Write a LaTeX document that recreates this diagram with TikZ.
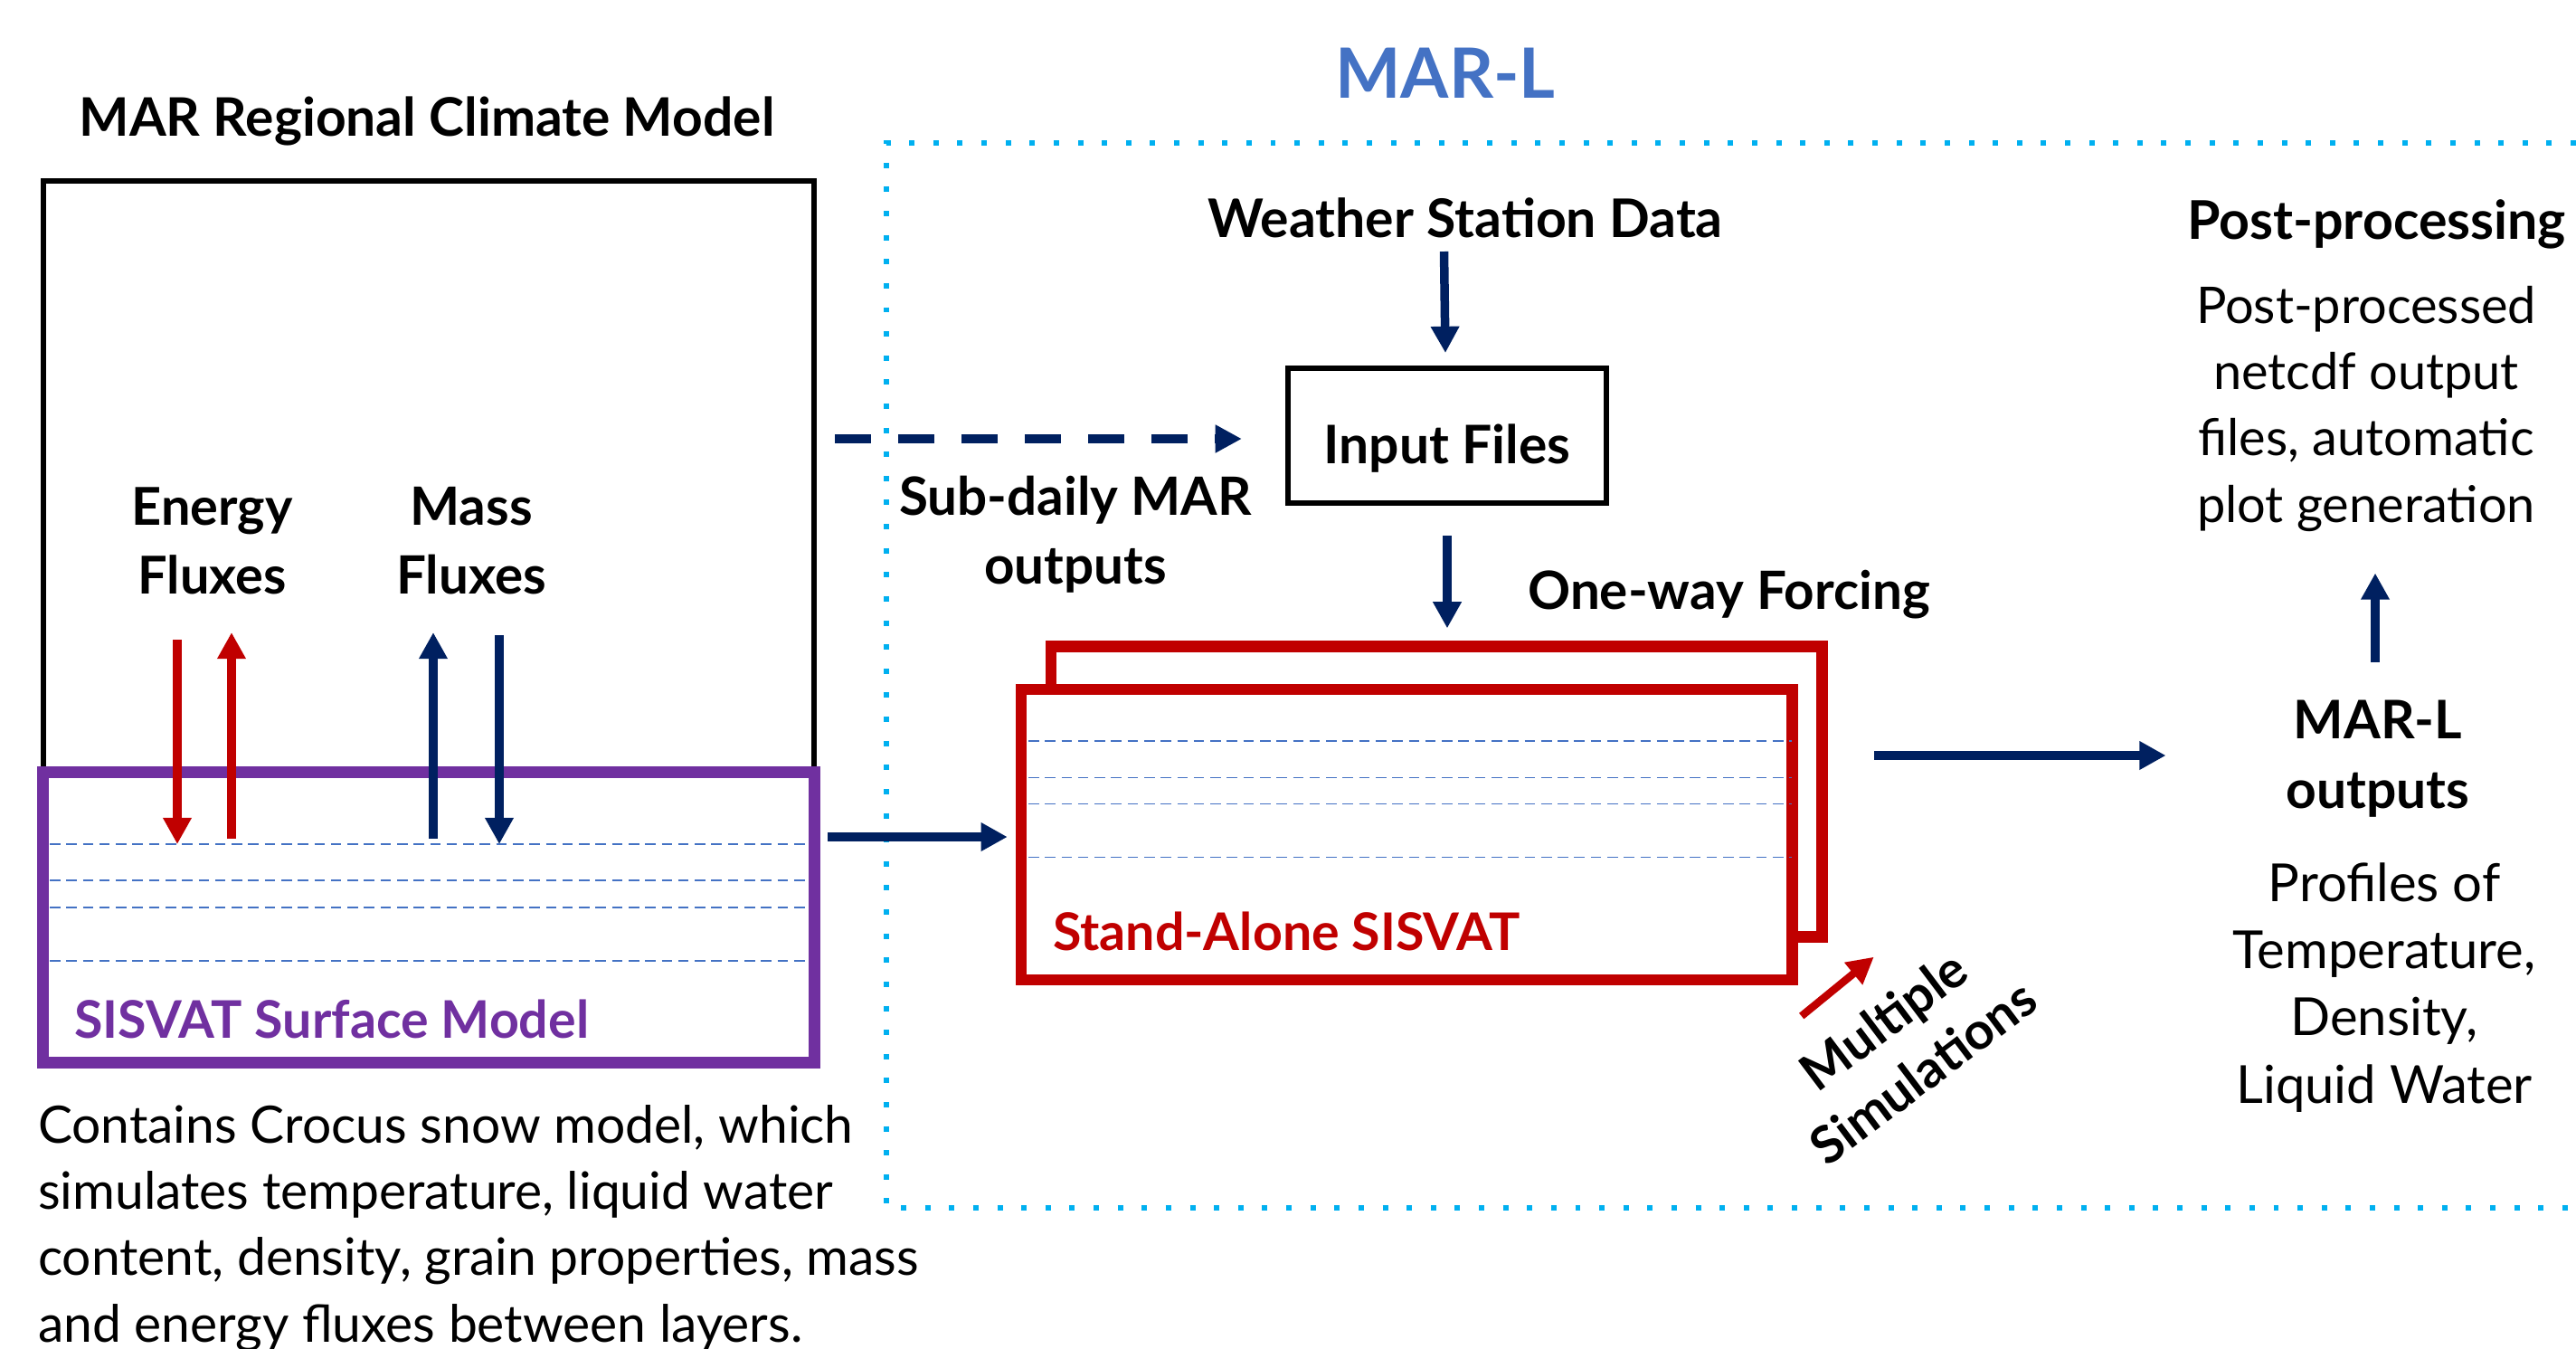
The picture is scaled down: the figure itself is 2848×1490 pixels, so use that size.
\documentclass[tikz,border=0pt]{standalone}
\usepackage{fontspec}
\setmainfont{Lato}
\usetikzlibrary{arrows.meta,calc}
\definecolor{navy}{HTML}{002060}
\definecolor{darkred}{HTML}{C00000}
\definecolor{purp}{HTML}{7030A0}
\definecolor{layerblue}{HTML}{4472C4}
\definecolor{cyanb}{HTML}{00B0F0}
\definecolor{titleblue}{HTML}{4472C4}
\begin{document}
\begin{tikzpicture}[x=0.01cm,y=-0.01cm,
  every node/.style={inner sep=0pt,outer sep=0pt},
  navyarr/.style={draw=navy,line width=2.7pt,-{Triangle[length=8.3pt,width=8.5pt,fill=navy]}},
  redarr/.style={draw=darkred,line width=2.7pt,-{Triangle[length=8.3pt,width=8.5pt,fill=darkred]}},
  layer/.style={draw=layerblue,line width=0.5pt,dash pattern=on 3.3pt off 1.9pt},
  framebox/.style={draw=darkred,line width=3.55pt,minimum width=8.52cm,minimum height=3.21cm},
]
\useasboundingbox (0,0) rectangle (2848,1490);

% ---------- MAR-L dotted region ----------
\draw[cyanb,line width=1.7pt,dash pattern=on 1.7pt off 5.87pt]
  (2848,157.7) -- (980,157.7) -- (980,1335) -- (2848,1335);
\node[anchor=base,text=titleblue,font=\bfseries\fontsize{21.8}{26}\selectfont] (marl) at (1598,108) {MAR-L};

% ---------- MAR regional climate model ----------
\node[anchor=base,font=\bfseries\fontsize{16.7}{20}\selectfont] (mrcm) at (472,150) {MAR Regional Climate Model};
\node[draw=black,line width=1.7pt,minimum width=8.52cm,minimum height=6.53cm] (mar) at (474,526.5) {};
\node[draw=purp,line width=3.7pt,minimum width=8.52cm,minimum height=3.21cm] (sis) at (474,1014) {};
\foreach \yy in {933,973,1003,1062} \draw[layer] (55,\yy) -- (893,\yy);
\node[anchor=base west,text=purp,font=\bfseries\fontsize{16.3}{20}\selectfont] (sislbl) at (82,1147) {SISVAT Surface Model};

\node[anchor=base,align=center,font=\bfseries\fontsize{16.4}{21.8}\selectfont] (ef) at (234.6,656.7) {Energy\\Fluxes};
\node[anchor=base,align=center,font=\bfseries\fontsize{16.6}{21.8}\selectfont] (mf) at (521,656.7) {Mass\\Fluxes};

\coordinate (e1a) at (196,707); \coordinate (e1b) at (196,933);
\coordinate (e2a) at (256,927); \coordinate (e2b) at (256,699);
\coordinate (m1a) at (479,927); \coordinate (m1b) at (479,699);
\coordinate (m2a) at (552,702); \coordinate (m2b) at (552,933);
\draw[redarr] (e1a) -- (e1b);
\draw[redarr] (e2a) -- (e2b);
\draw[navyarr] (m1a) -- (m1b);
\draw[navyarr] (m2a) -- (m2b);

\node[anchor=base west,align=left,font=\fontsize{16.2}{20.85}\selectfont] (desc) at (42,1483)
  {Contains Crocus snow model, which\\simulates temperature, liquid water\\content, density, grain properties, mass\\and energy fluxes between layers.};

% ---------- Input files ----------
\node[anchor=base,font=\bfseries\fontsize{16.75}{20}\selectfont] (wsd) at (1620,262) {Weather Station Data};
\node[draw=black,line width=1.7pt,minimum width=3.52cm,minimum height=1.49cm,
      text height=21.3pt,text depth=3.4pt,font=\bfseries\fontsize{16.7}{20}\selectfont] (inp) at (1600,481.5) {Input Files};
\coordinate (wsdA) at (1596.5,278); \coordinate (wsdB) at (1598,390);
\draw[navyarr] (wsdA) -- (wsdB);

\draw[draw=navy,line width=2.7pt,dash pattern=on 11.4pt off 8.5pt,-{Triangle[length=8.3pt,width=8.3pt,fill=navy]},
      shorten <=0.23cm,shorten >=0.51cm] (mar.east |- 0,485) -- (inp.west |- 0,485);
\node[anchor=base,align=center,font=\bfseries\fontsize{16.6}{21.6}\selectfont] (sub) at (1189,645) {Sub-daily MAR\\outputs};

% ---------- Stand-alone SISVAT ----------
\node[framebox] (back) at (1588,875) {};
\node[framebox,fill=white] (front) at (1555,922.5) {};
\foreach \yy in {819,859.5,888.6,947.5} \draw[layer] (1137,\yy) -- (1981,\yy);
\node[anchor=base west,text=darkred,font=\bfseries\fontsize{16.3}{20}\selectfont] (salbl) at (1164,1050) {Stand-Alone SISVAT};

\draw[navyarr,shorten <=0.36cm,shorten >=0.2cm] (inp.south) -- (inp.south |- back.north);
\node[anchor=base,font=\bfseries\fontsize{16.6}{20}\selectfont] (owf) at (1911.5,673) {One-way Forcing};

\draw[navyarr,shorten <=0.15cm,shorten >=0.15cm] (sis.east |- 0,925) -- (front.west |- 0,925);

\coordinate (msA) at (1991.7,1123); \coordinate (msB) at (2071.7,1057.7);
\draw[draw=darkred,line width=2.4pt,-{Triangle[length=8.3pt,width=8.5pt,fill=darkred]}] (msA) -- (msB);
\node[rotate=37,align=center,font=\bfseries\fontsize{16.2}{20.5}\selectfont] (ms) at (2104,1156) {Multiple\\Simulations};

% ---------- outputs ----------
\node[anchor=base,font=\bfseries\fontsize{16.8}{20}\selectfont] (pp) at (2627.5,264) {Post-processing};
\node[anchor=base,align=center,font=\fontsize{15.9}{20.8}\selectfont] (ppt) at (2616,577)
  {Post-processed\\netcdf output\\files, automatic\\plot generation};
\node[anchor=base,align=center,font=\bfseries\fontsize{16.7}{21.9}\selectfont] (mout) at (2629,893) {MAR-L\\outputs};
\node[anchor=base,align=center,font=\fontsize{16.5}{21.05}\selectfont] (prof) at (2636,1219)
  {Profiles of\\Temperature,\\Density,\\Liquid Water};

\draw[navyarr,shorten <=0.58cm,shorten >=1.33cm] (back.east |- 0,835) -- (mout.west |- 0,835);
\coordinate (upA) at (2626,732); \coordinate (upB) at (2626,633.5);
\draw[navyarr] (upA) -- (upB);
\end{tikzpicture}
\end{document}
